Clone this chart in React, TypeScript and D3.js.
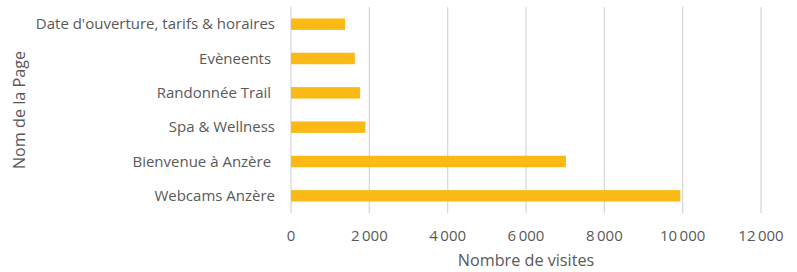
import * as d3 from 'd3';

const pages = [
  "Date d'ouverture, tarifs & horaires",
  'Evèneents ',
  'Randonnée Trail ',
  'Spa & Wellness',
  'Bienvenue à Anzère ',
  'Webcams Anzère',
];
const visits = [1380, 1630, 1765, 1900, 7020, 9940];
const xTicks = [0, 2000, 4000, 6000, 8000, 10000, 12000];

const fmt = (v: number) => d3.format(',')(v).replace(/,/g, '\u2009');

export default function App() {
  const width = 797;
  const height = 272;
  const plot = { left: 291, right: 761, top: 7, bottom: 213 };

  const x = d3.scaleLinear().domain([0, 12000]).range([plot.left, plot.right]);
  const y = d3
    .scaleBand()
    .domain(pages)
    .range([plot.top, plot.bottom])
    .paddingInner(2 / 3)
    .paddingOuter(1 / 3);

  const font = "'Open Sans', sans-serif";
  const grey = '#595959';

  return (
    <svg
      width={width}
      height={height}
      style={{ position: 'absolute', left: 0, top: 0, fontFamily: font }}
    >
      {xTicks.map((t) => (
        <g key={t}>
          <line
            x1={x(t)}
            x2={x(t)}
            y1={plot.top}
            y2={plot.bottom}
            stroke="#d9d9d9"
            strokeWidth={1.3}
          />
          <text
            x={x(t)}
            y={241}
            textAnchor="middle"
            fontSize={15}
            fill={grey}
          >
            {fmt(t)}
          </text>
        </g>
      ))}
      {pages.map((p, i) => (
        <g key={p}>
          <rect
            x={x(0)}
            y={y(p)}
            width={x(visits[i]) - x(0)}
            height={y.bandwidth()}
            fill="#fbb916"
          />
          <text
            x={275}
            y={(y(p) ?? 0) + y.bandwidth() / 2}
            dy="0.35em"
            textAnchor="end"
            fontSize={15}
            fill={grey}
            style={{ whiteSpace: 'pre' }}
          >
            {p}
          </text>
        </g>
      ))}
      <text x={526} y={266} textAnchor="middle" fontSize={16.2} fill={grey}>
        Nombre de visites
      </text>
      <text
        transform="translate(25,110) rotate(-90)"
        textAnchor="middle"
        fontSize={16.2}
        fill={grey}
      >
        Nom de la Page
      </text>
    </svg>
  );
}
